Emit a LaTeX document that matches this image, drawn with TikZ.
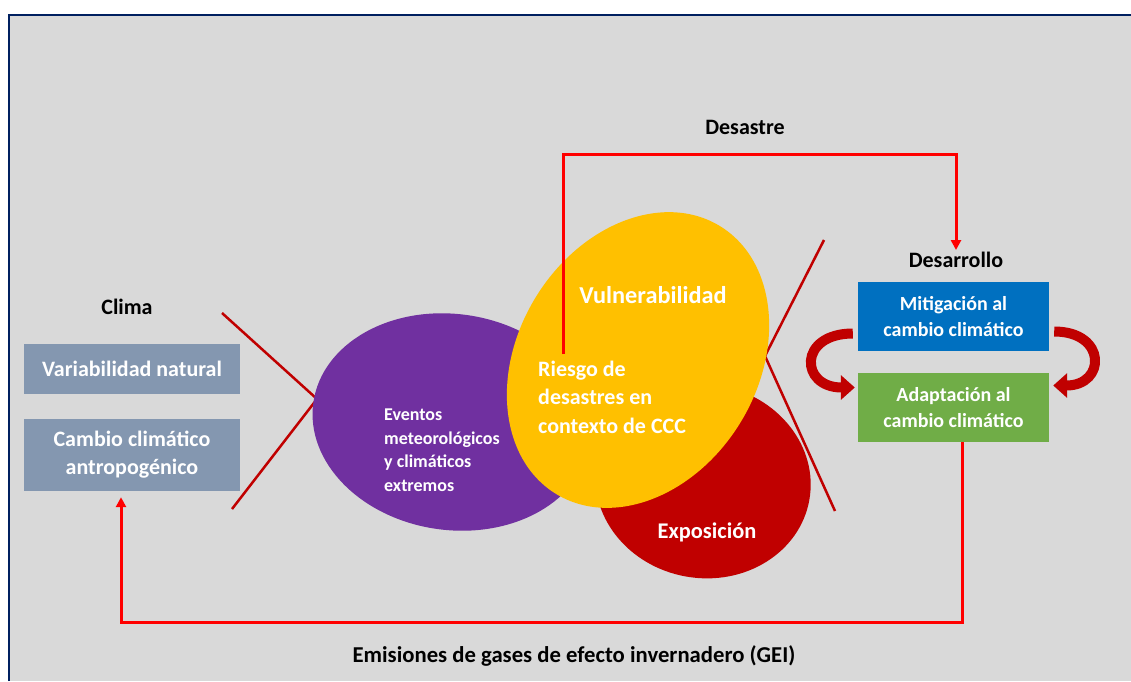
\documentclass[tikz,border=0pt]{standalone}
\usepackage{fontspec}
\setmainfont{Carlito}
\usetikzlibrary{arrows.meta}
\definecolor{panel}{HTML}{D9D9D9}
\definecolor{frame}{HTML}{002060}
\definecolor{slate}{HTML}{8497B0}
\definecolor{mitblue}{HTML}{0070C0}
\definecolor{adagreen}{HTML}{70AD47}
\definecolor{evpurple}{HTML}{7030A0}
\definecolor{vulyellow}{HTML}{FFC000}
\definecolor{expred}{HTML}{C00000}
\definecolor{flowred}{HTML}{FF0000}
\begin{document}
\begin{tikzpicture}[x=1pt,y=-1pt]
    \tikzstyle{label} = [inner sep=2pt,font=\bfseries\fontsize{22}{26}\selectfont]
    \tikzstyle{lbox} = [fill=slate,text=white,align=center,minimum width=216pt,inner sep=0pt,font=\bfseries\fontsize{22}{28}\selectfont]
    \tikzstyle{rbox} = [text=white,align=center,minimum width=191pt,minimum height=69pt,inner sep=0pt,font=\bfseries\fontsize{20}{26}\selectfont]
    \tikzstyle{inner} = [text=white,inner sep=0pt,align=left]
    \tikzstyle{cross} = [draw=expred,line width=2.5pt]
    \tikzstyle{flow} = [draw=flowred,line width=3pt,-{Triangle[length=10pt,width=10pt]}]
    \tikzstyle{swirl} = [draw=expred,line width=10pt,-{Triangle[length=14pt,width=24pt]}]
    \useasboundingbox (0,0) rectangle (1131,681);
    \fill [panel] (9,15) rectangle (1131,681);
    \draw [frame,line width=2.2pt] (9,681) -- (9,15) -- (1131,15);
    \coordinate (lx) at (317,399);
    \draw [cross] (222,313) -- (lx) -- (232,509);
    \fill [evpurple,rotate around={-8:(452,422)}] (452,422) ellipse [x radius=140,y radius=108];
    \fill [expred,rotate around={-10:(703,481)}] (703,481) ellipse [x radius=108,y radius=97];
    \coordinate (rx) at (765,356);
    \draw [cross] (824,240) -- (rx) -- (835,511);
    \fill [vulyellow,rotate around={58.5:(638,360)}] (638,360) ellipse [x radius=157,y radius=120];
    \node [label] (clima) at (127,307) {Clima};
    \node [lbox,minimum height=50pt] (var) at (132,369) {Variabilidad natural};
    \node [lbox,minimum height=72pt] (cambio) at (132,455) {Cambio climático\\antropogénico};
    \node [inner,anchor=west,font=\bfseries\fontsize{18}{23.5}\selectfont] (eventos) at (384,450) {Eventos\\meteorológicos\\y climáticos\\extremos};
    \node [inner,font=\bfseries\fontsize{24.3}{28}\selectfont] (vul) at (653,295) {Vulnerabilidad};
    \node [inner,anchor=west,font=\bfseries\fontsize{22}{28.5}\selectfont] (riesgo) at (538,397) {Riesgo de\\desastres en\\contexto de CCC};
    \node [inner,font=\bfseries\fontsize{22.4}{26}\selectfont] (expo) at (707,532) {Exposición};
    \node [label] (desastre) at (745,127) {Desastre};
    \node [label] (desarrollo) at (956,260) {Desarrollo};
    \node [rbox,fill=mitblue] (mit) at (953.5,316.5) {Mitigación al\\cambio climático};
    \node [rbox,fill=adagreen] (adap) at (953.5,407.5) {Adaptación al\\cambio climático};
    \node [label,font=\bfseries\fontsize{22.7}{26}\selectfont] (gei) at (574,656) {Emisiones de gases de efecto invernadero (GEI)};
    \coordinate (rsk) at (563,354);
    \coordinate (top) at (0,154);
    \draw [flow] (rsk) -- (rsk |- top) -| (desarrollo.north);
    \draw [flow] ([xshift=9pt]adap.south) -- ++(0,180) -| ([xshift=-11pt,yshift=-6pt]cambio.south);
    \draw [swirl] ([xshift=-5pt,yshift=-17pt]mit.west) to [out=180,in=180,looseness=2.6] ([xshift=-3pt,yshift=20pt]adap.west);
    \draw [swirl] ([xshift=5pt,yshift=-15pt]mit.east) to [out=0,in=0,looseness=2.5] ([xshift=4pt,yshift=22pt]adap.east);
\end{tikzpicture}
\end{document}
